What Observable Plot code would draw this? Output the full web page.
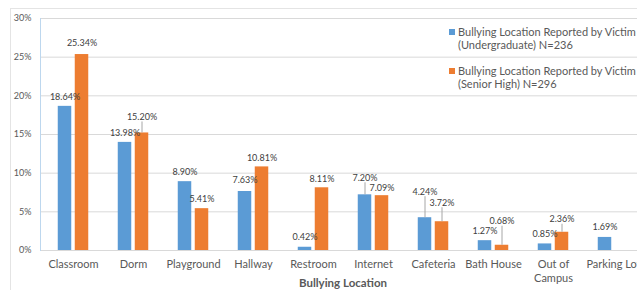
<!DOCTYPE html>
<html>
<head>
<meta charset="utf-8">
<script src="https://cdn.jsdelivr.net/npm/d3@7"></script>
<script src="https://cdn.jsdelivr.net/npm/@observablehq/plot@0.6"></script>
<style>
  html, body { margin: 0; padding: 0; background: #fff; overflow: hidden; }
  #wrap { position: relative; width: 637px; height: 290px; overflow: hidden; font-family: Lato, "Open Sans", sans-serif; }
  #frame { position: absolute; left: 10px; top: 8px; width: 700px; height: 400px; border-top: 1px solid #e4e4e4; border-left: 1px solid #e4e4e4; }
  #chart { position: absolute; left: 0; top: 0; width: 650px; }
  #chart svg { max-width: none !important; }
  #legend { position: absolute; left: 449px; top: 25px; font-size: 11px; line-height: 13px; color: #595959; white-space: nowrap; }
  .item { position: relative; padding-left: 9px; margin-bottom: 13px; }
  .sw { position: absolute; left: 0; top: 4px; width: 6px; height: 6px; }
</style>
</head>
<body>
<div id="wrap">
  <div id="frame"></div>
  <div id="chart"></div>
  <div id="legend"></div>
</div>
<script>
// ---- data ----
const categories = ["Classroom", "Dorm", "Playground", "Hallway", "Restroom", "Internet", "Cafeteria", "Bath House", "Out of Campus", "Parking Lot"];
const undergraduate = [18.64, 13.98, 8.90, 7.63, 0.42, 7.20, 4.24, 1.27, 0.85, 1.69];
const seniorHigh = [25.34, 15.20, 5.41, 10.81, 8.11, 7.09, 3.72, 0.68, 2.36, null];
const seriesNames = ["Bullying Location Reported by Victim (Undergraduate) N=236", "Bullying Location Reported by Victim (Senior High) N=296"];
const legendLines = [["Bullying Location Reported by Victim", "(Undergraduate) N=236"], ["Bullying Location Reported by Victim", "(Senior High) N=296"]];
const yTicks = [0, 5, 10, 15, 20, 25, 30];
const xTitle = "Bullying Location";

// ---- layout (label lift above bar top, px) ----
const liftU = [9, 9, 10, 11, 10, 17, 26, 10, 10, 10];
const liftS = [11, 16, 10, 9, 9, 8, 19, 24, 13, 0];
const colors = ["#5b9bd5", "#ed7d31"];

const H = 290, MT = 18, MB = 40;
const ppu = (H - MT - MB) / 30; // px per percent

const rowsU = categories.map((c, i) => ({cat: c, value: undergraduate[i], lift: liftU[i], series: seriesNames[0]}));
const rowsS = categories.map((c, i) => ({cat: c, value: seniorHigh[i], lift: liftS[i], series: seriesNames[1]})).filter(d => d.value != null);

const labelMarks = (rows, dx) => [
  Plot.ruleX(rows.filter(d => d.lift > 12), {x: "cat", y1: "value", y2: d => d.value + (d.lift - 5) / ppu, dx, stroke: "#a6a6a6", strokeWidth: 1}),
  Plot.text(rows, {x: "cat", y: d => d.value + d.lift / ppu, text: d => d.value.toFixed(2) + "%", dx, fontSize: 9, fill: "#404040"})
];

const chart = Plot.plot({
  width: 650, height: H,
  marginTop: MT, marginBottom: MB, marginLeft: 40, marginRight: 5,
  style: {fontFamily: "Lato, 'Open Sans', sans-serif", background: "transparent", maxWidth: "none"},
  x: {type: "band", domain: categories, padding: 0},
  y: {domain: [0, 30]},
  color: {domain: seriesNames, range: colors},
  marks: [
    Plot.gridY(yTicks, {stroke: "#d9d9d9", strokeOpacity: 1}),
    Plot.frame({anchor: "left", stroke: "#bdd7ee"}),
    Plot.axisY({ticks: yTicks, tickFormat: d => d + "%", tickSize: 0, tickPadding: 9, fontSize: 9, fill: "#595959", label: null}),
    Plot.axisX({tickSize: 0, tickPadding: 8, fontSize: 11, fill: "#595959", label: null, lineHeight: 1.25,
      tickFormat: d => d === "Out of Campus" ? "Out of\nCampus" : d}),
    Plot.barY(rowsU, {x: "cat", y: "value", fill: "series", insetLeft: 14.75, insetRight: 31.75}),
    Plot.barY(rowsS, {x: "cat", y: "value", fill: "series", insetLeft: 31.75, insetRight: 14.75}),
    ...labelMarks(rowsU, -8.5),
    ...labelMarks(rowsS, 8.5),
    Plot.text([xTitle], {frameAnchor: "bottom", dy: 36, fontSize: 11.5, fontWeight: "bold", fill: "#595959"})
  ]
});
document.getElementById("chart").appendChild(chart);

const legend = document.getElementById("legend");
legendLines.forEach((lines, i) => {
  const item = document.createElement("div");
  item.className = "item";
  const sw = document.createElement("span");
  sw.className = "sw";
  sw.style.background = colors[i];
  item.appendChild(sw);
  lines.forEach(t => { const l = document.createElement("div"); l.textContent = t; item.appendChild(l); });
  legend.appendChild(item);
});
</script>
</body>
</html>
